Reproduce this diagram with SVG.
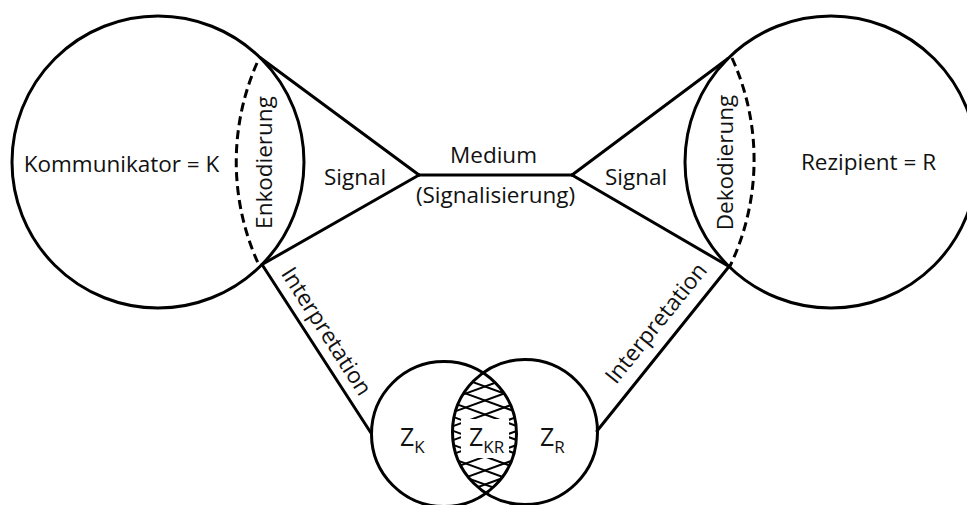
<svg xmlns="http://www.w3.org/2000/svg" width="967" height="505" viewBox="0 0 967 505">
<style>
.ln{fill:none;stroke:#000;stroke-width:3;stroke-linecap:round}
.ds{fill:none;stroke:#000;stroke-width:3;stroke-dasharray:9 5}
.ht{stroke:#000;stroke-width:2}
text{font-family:"Open Sans","Noto Sans",sans-serif;font-size:22.5px;fill:#111}
.m{text-anchor:middle}
.z{font-size:25px}
.sub{font-size:17px}
</style>
<defs>
<clipPath id="cK"><circle cx="444" cy="434" r="72.5"/></clipPath>
<clipPath id="cR"><circle cx="525" cy="432" r="72.5"/></clipPath>
</defs>
<rect width="967" height="505" fill="#fff"/>
<g id="connectors">
<line class="ln" x1="260" y1="57.5" x2="419" y2="175"/>
<line class="ln" x1="262" y1="264.5" x2="419" y2="175"/>
<line class="ln" x1="419" y1="175" x2="572" y2="175"/>
<line class="ln" x1="728" y1="58.5" x2="572" y2="175"/>
<line class="ln" x1="729" y1="266.5" x2="572" y2="175"/>
<line class="ln" x1="262" y1="264.5" x2="371" y2="433"/>
<line class="ln" x1="729" y1="266.5" x2="597" y2="431"/>
</g>
<g id="kommunikator">
<circle class="ln" cx="158" cy="162" r="146"/>
<path class="ds" d="M257,63 A246,246 0 0 0 258,263"/>
<text class="m" x="121.5" y="171.5">Kommunikator = K</text>
<text class="m" transform="translate(271.5,162.5) rotate(-90)">Enkodierung</text>
</g>
<g id="rezipient">
<circle class="ln" cx="831" cy="162" r="146"/>
<path class="ds" d="M732,58 A246,246 0 0 1 730,266"/>
<text class="m" x="868.5" y="170">Rezipient = R</text>
<text class="m" transform="translate(733,162.5) rotate(-90)">Dekodierung</text>
</g>
<g id="labels">
<text class="m" x="355" y="185">Signal</text>
<text class="m" x="636" y="185">Signal</text>
<text class="m" x="493.5" y="163">Medium</text>
<text class="m" x="495.5" y="203">(Signalisierung)</text>
<text class="m" transform="translate(320,335.5) rotate(57.4)">Interpretation</text>
<text class="m" transform="translate(662,328) rotate(-51.2)">Interpretation</text>
</g>
<g id="zkr">
<g clip-path="url(#cK)"><g clip-path="url(#cR)">
<g class="ht">
<line x1="448" y1="345" x2="522" y2="372"/>
<line x1="448" y1="359" x2="522" y2="386"/>
<line x1="448" y1="373" x2="522" y2="400"/>
<line x1="448" y1="387" x2="522" y2="414"/>
<line x1="448" y1="401" x2="522" y2="428"/>
<line x1="448" y1="415" x2="522" y2="442"/>
<line x1="448" y1="429" x2="522" y2="456"/>
<line x1="448" y1="443" x2="522" y2="470"/>
<line x1="448" y1="457" x2="522" y2="484"/>
<line x1="448" y1="471" x2="522" y2="498"/>
<line x1="448" y1="485" x2="522" y2="512"/>
<line x1="448" y1="372" x2="522" y2="345"/>
<line x1="448" y1="386" x2="522" y2="359"/>
<line x1="448" y1="400" x2="522" y2="373"/>
<line x1="448" y1="414" x2="522" y2="387"/>
<line x1="448" y1="428" x2="522" y2="401"/>
<line x1="448" y1="442" x2="522" y2="415"/>
<line x1="448" y1="456" x2="522" y2="429"/>
<line x1="448" y1="470" x2="522" y2="443"/>
<line x1="448" y1="484" x2="522" y2="457"/>
<line x1="448" y1="498" x2="522" y2="471"/>
<line x1="448" y1="512" x2="522" y2="485"/>
</g>
</g></g>
<rect x="461" y="419" width="48" height="39" fill="#fff"/>
<text class="z" x="469" y="446">Z<tspan class="sub" dy="7">KR</tspan></text>
</g>
<g id="zk">
<circle class="ln" cx="444" cy="434" r="72.5"/>
<text class="z" x="400" y="446">Z<tspan class="sub" dy="7">K</tspan></text>
</g>
<g id="zr">
<circle class="ln" cx="525" cy="432" r="72.5"/>
<text class="z" x="540" y="446">Z<tspan class="sub" dy="7">R</tspan></text>
</g>
</svg>
